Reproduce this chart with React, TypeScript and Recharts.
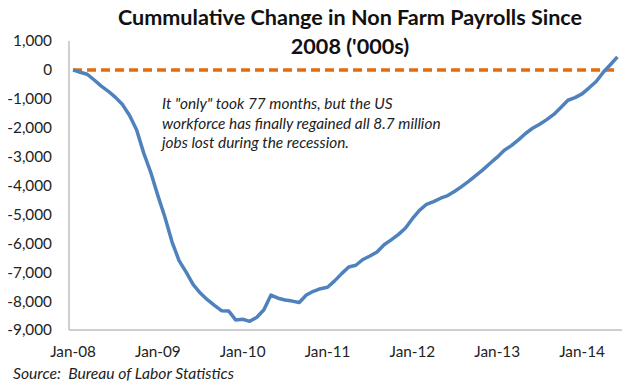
import React from 'react';
import { LineChart, Line, XAxis, YAxis, ReferenceLine } from 'recharts';

const months: string[] = [
  'Jan-08','Feb-08','Mar-08','Apr-08','May-08','Jun-08','Jul-08','Aug-08','Sep-08','Oct-08','Nov-08','Dec-08',
  'Jan-09','Feb-09','Mar-09','Apr-09','May-09','Jun-09','Jul-09','Aug-09','Sep-09','Oct-09','Nov-09','Dec-09',
  'Jan-10','Feb-10','Mar-10','Apr-10','May-10','Jun-10','Jul-10','Aug-10','Sep-10','Oct-10','Nov-10','Dec-10',
  'Jan-11','Feb-11','Mar-11','Apr-11','May-11','Jun-11','Jul-11','Aug-11','Sep-11','Oct-11','Nov-11','Dec-11',
  'Jan-12','Feb-12','Mar-12','Apr-12','May-12','Jun-12','Jul-12','Aug-12','Sep-12','Oct-12','Nov-12','Dec-12',
  'Jan-13','Feb-13','Mar-13','Apr-13','May-13','Jun-13','Jul-13','Aug-13','Sep-13','Oct-13','Nov-13','Dec-13',
  'Jan-14','Feb-14','Mar-14','Apr-14','May-14','Jun-14',
];

const payrollChange: number[] = [
  0, -80, -150, -350, -560, -740, -950, -1200, -1580, -2080, -2880, -3550,
  -4350, -5100, -5950, -6600, -7000, -7430, -7720, -7950, -8150, -8330, -8340, -8650,
  -8630, -8700, -8560, -8300, -7790, -7900, -7960, -8000, -8050, -7790, -7660, -7570,
  -7520, -7300, -7050, -6820, -6760, -6560, -6440, -6300, -6050, -5880, -5700, -5480,
  -5150, -4860, -4650, -4560, -4440, -4350, -4200, -4030, -3850, -3650, -3450, -3230,
  -3020, -2780, -2620, -2420, -2200, -2020, -1880, -1720, -1540, -1300, -1050, -960,
  -830, -620, -400, -80, 180, 450,
];

const xTickLabels: string[] = ['Jan-08', 'Jan-09', 'Jan-10', 'Jan-11', 'Jan-12', 'Jan-13', 'Jan-14'];
const yTicks: number[] = [1000, 0, -1000, -2000, -3000, -4000, -5000, -6000, -7000, -8000, -9000];

const data = payrollChange.map((v, i) => ({ i, month: months[i], value: v }));
const xTicks = xTickLabels.map((l) => months.indexOf(l));

const FONT = 'Lato, "Open Sans", sans-serif';

export default function App() {
  return (
    <div style={{ position: 'absolute', left: 0, top: 0, width: 640, height: 386, background: '#fff', fontFamily: FONT }}>
      <LineChart width={640} height={386} data={data} margin={{ top: 41, right: 18, bottom: 26, left: 0 }}>
        <XAxis
          dataKey="i"
          type="number"
          domain={[-0.57, 77.65]}
          allowDataOverflow
          ticks={xTicks}
          tickFormatter={(v: number) => months[v]}
          tickLine={false}
          axisLine={{ stroke: '#BFBFBF', strokeWidth: 1.5 }}
          tick={{ fill: '#222', fontSize: 15.3, fontFamily: FONT }}
          tickMargin={10}
          height={30}
        />
        <YAxis
          type="number"
          domain={[-9000, 1000]}
          ticks={yTicks}
          interval={0}
          tickFormatter={(v: number) => v.toLocaleString('en-US')}
          tickLine={false}
          axisLine={{ stroke: '#BFBFBF', strokeWidth: 1.5 }}
          tick={{ fill: '#222', fontSize: 15.3, fontFamily: FONT }}
          tickMargin={11}
          width={69}
        />
        <ReferenceLine
          segment={[{ x: 0, y: 0 }, { x: 77, y: 0 }]}
          stroke="#E46C0A"
          strokeWidth={3.5}
          strokeDasharray="9 5"
        />
        <Line
          dataKey="value"
          stroke="#4F81BD"
          strokeWidth={3.5}
          dot={false}
          isAnimationActive={false}
          strokeLinejoin="round"
        />
      </LineChart>
      <div style={{ position: 'absolute', left: 0, width: 700, top: 3, textAlign: 'center', fontWeight: 700, fontSize: 21.6, lineHeight: '29px', color: '#111' }}>
        Cummulative Change in Non Farm Payrolls Since
        <br />
        2008 ('000s)
      </div>
      <div style={{ position: 'absolute', left: 162, top: 94, fontStyle: 'italic', fontSize: 15.4, lineHeight: '19.5px', color: '#222', whiteSpace: 'nowrap' }}>
        It "only" took 77 months, but the US
        <br />
        workforce has finally regained all 8.7 million
        <br />
        jobs lost during the recession.
      </div>
      <div style={{ position: 'absolute', left: 13, top: 364, fontStyle: 'italic', fontSize: 15.7, color: '#222', whiteSpace: 'nowrap' }}>
        Source:&nbsp; Bureau of Labor Statistics
      </div>
    </div>
  );
}
